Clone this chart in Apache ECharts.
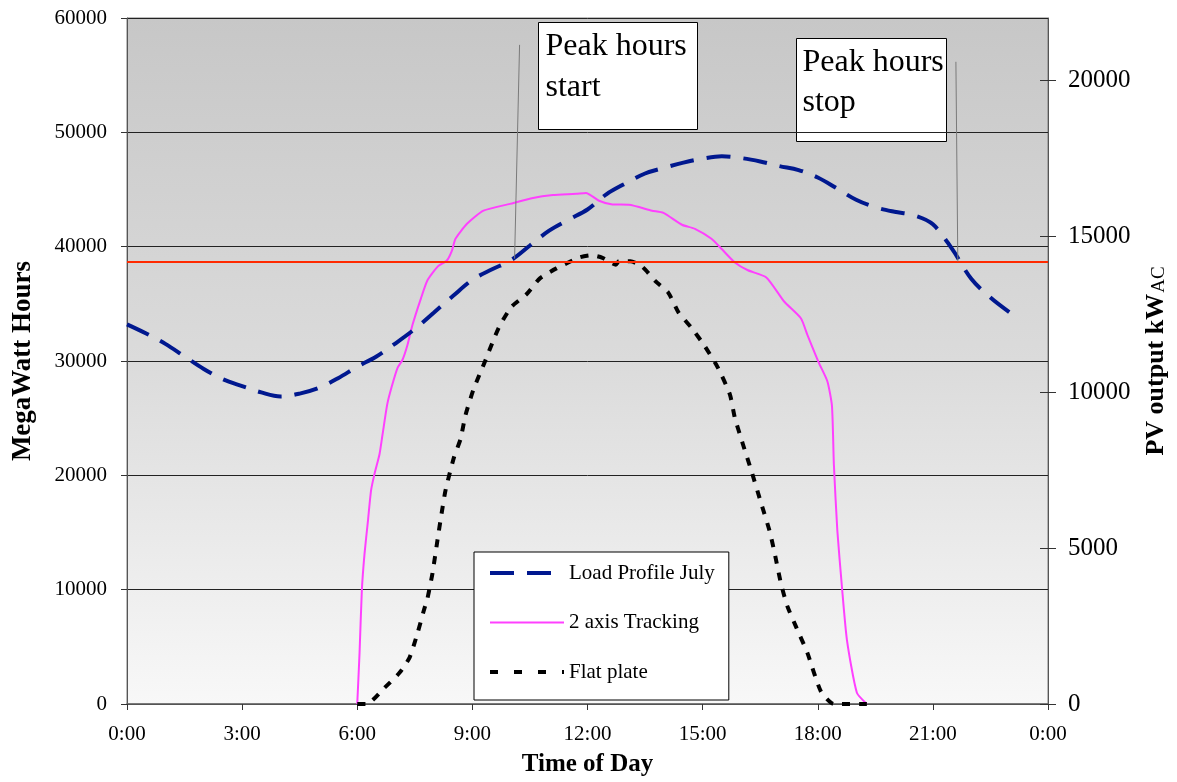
<!DOCTYPE html>
<html>
<head>
<meta charset="utf-8">
<script src="https://cdn.jsdelivr.net/npm/echarts@6/dist/echarts.min.js"></script>
<style>html,body{margin:0;padding:0;background:#fff;overflow:hidden}#c{width:1177px;height:782px}</style>
</head>
<body>
<div id="c"></div>
<script>
// ---- data ----
var seriesNames = ['Load Profile July', '2 axis Tracking', 'Flat plate'];

var loadHours = [0,0.5,1,1.5,2,2.5,3,3.5,4,4.5,5,5.5,6,6.5,7,7.5,8,8.5,9,9.5,10,10.5,11,11.5,12,12.5,13,13.5,14,14.5,15,15.5,16,16.5,17,17.5,18,18.5,19,19.5,20,20.5,21,21.5,22,22.5,23];
var loadMW = [33200,32400,31500,30400,29300,28400,27800,27250,26900,27150,27650,28500,29500,30400,31550,32800,34250,35700,37100,38000,38800,40100,41400,42350,43250,44600,45550,46400,46900,47350,47700,47900,47750,47450,47050,46700,46050,45100,44100,43450,43050,42750,41950,39800,37200,35550,34250];

var trackHours = [6.0,6.06,6.12,6.19,6.28,6.36,6.45,6.58,6.66,6.78,6.89,7.05,7.18,7.31,7.44,7.66,7.83,8.09,8.34,8.47,8.56,8.86,9.29,9.98,10.58,11.1,11.7,11.96,12.3,12.65,13.08,13.68,13.98,14.46,14.8,15.23,15.49,15.84,16.18,16.66,17.13,17.56,17.73,18.03,18.25,18.37,18.42,18.51,18.63,18.76,19.02,19.28];
var trackKW = [0,1640,3650,4820,5890,6850,7380,8010,8650,9600,10140,10780,11040,11520,12160,13010,13590,14020,14230,14550,14920,15400,15820,16040,16230,16320,16360,16390,16140,16020,16010,15820,15750,15370,15240,14920,14600,14160,13910,13680,12900,12370,11840,10940,10350,9560,7690,5570,3760,2060,360,0];

var flatHours = [6.0,6.24,6.71,7.1,7.36,7.57,7.74,7.83,7.96,8.09,8.19,8.3,8.52,8.69,8.82,9.03,9.33,9.68,10.02,10.41,10.76,11.19,11.79,12.11,12.39,12.74,12.82,13.12,13.43,13.77,14.1,14.37,14.72,15.06,15.4,15.71,15.84,16.05,16.27,16.53,16.74,16.87,17.04,17.21,17.43,17.73,18.08,18.42,19.28];
var flatKW = [0,0,520,1000,1480,2270,3020,3390,4190,5250,6050,6850,7910,8490,9260,10090,10990,12050,12740,13140,13650,13970,14320,14390,14310,14090,14200,14200,14020,13560,13200,12560,12050,11470,10780,9930,9180,8330,7480,6420,5570,4880,3870,3130,2490,1640,410,0,0];

var peakThresholdMW = 38700;
var peakStartLeader = [[10.23, 57650], [10.10, 38950]];
var peakStopLeader = [[21.60, 56170], [21.65, 38700]];

var xTicks = [0,3,6,9,12,15,18,21,24];
var rightTicks = [0,5000,10000,15000,20000];

// ---- chart ----
function zip(a, b) { return a.map(function (v, i) { return [v, b[i]]; }); }
var serif = 'Liberation Serif';
var styles = {
  load: {color: '#00188f', width: 4, type: [24, 13]},
  track: {color: '#ff40ff', width: 2, type: 'solid'},
  flat: {color: '#000000', width: 4, type: [8, 9]}
};

var chart = echarts.init(document.getElementById('c'), null, {renderer: 'canvas', width: 1177, height: 782});
chart.setOption({
  animation: false,
  backgroundColor: '#ffffff',
  grid: {
    left: 127, right: 121, top: 18, bottom: 74,
    show: true,
    borderColor: '#7a7a7a', borderWidth: 1,
    backgroundColor: new echarts.graphic.LinearGradient(0, 0, 0, 1, [
      {offset: 0, color: '#c7c7c7'},
      {offset: 0.5, color: '#dbdbdb'},
      {offset: 1, color: '#f8f8f8'}
    ])
  },
  legend: {
    orient: 'vertical',
    left: 474, top: 552,
    data: [
      {name: seriesNames[0], lineStyle: styles.load, itemStyle: {opacity: 0}},
      {name: seriesNames[1], lineStyle: styles.track, itemStyle: {opacity: 0}},
      {name: seriesNames[2], lineStyle: {color: '#000', width: 4, type: [8, 16]}, itemStyle: {opacity: 0}}
    ],
    itemWidth: 74, itemHeight: 22, itemGap: 27.5,
    itemStyle: {opacity: 0},
    backgroundColor: '#ffffff', borderColor: '#000000', borderWidth: 1,
    padding: [10, 14, 17, 14],
    textStyle: {fontFamily: serif, fontSize: 21, color: '#000', lineHeight: 22}
  },
  xAxis: {
    type: 'value', min: 0, max: 24, interval: 3,
    name: 'Time of Day', nameLocation: 'middle', nameGap: 48,
    nameTextStyle: {fontFamily: serif, fontSize: 25, fontWeight: 'bold', color: '#000'},
    axisLine: {show: true, lineStyle: {color: '#666', width: 1.5}},
    axisTick: {show: true, length: 6, lineStyle: {color: '#333'}, customValues: xTicks},
    axisLabel: {margin: 20, fontFamily: serif, fontSize: 21, color: '#000', customValues: xTicks,
      formatter: function (v) { return (v % 24) + ':00'; }},
    splitLine: {show: false}
  },
  yAxis: [{
    type: 'value', min: 0, max: 60000, interval: 10000, position: 'left',
    name: 'MegaWatt Hours', nameLocation: 'middle', nameRotate: 90, nameGap: 90,
    nameTextStyle: {fontFamily: serif, fontSize: 27, fontWeight: 'bold', color: '#000'},
    axisLine: {show: true, lineStyle: {color: '#555', width: 1}},
    axisTick: {show: true, length: 6, lineStyle: {color: '#333'}},
    axisLabel: {margin: 20, fontFamily: serif, fontSize: 21, color: '#000',
      formatter: function (v) { return String(v); }},
    splitLine: {show: true, lineStyle: {color: '#222', width: 1}}
  }, {
    type: 'value', min: 0, max: 22000, interval: 5000, position: 'right',
    name: '{a|PV output kW}{b|AC}', nameLocation: 'middle', nameRotate: 90, nameGap: 95,
    nameTextStyle: {color: '#000', rich: {
      a: {fontFamily: serif, fontSize: 26, fontWeight: 'bold', color: '#000'},
      b: {fontFamily: serif, fontSize: 19, color: '#000', verticalAlign: 'bottom', padding: [6, 0, 0, 1]}
    }},
    axisLine: {show: true, lineStyle: {color: '#555', width: 1}},
    axisTick: {show: true, length: 8, lineStyle: {color: '#333'}, customValues: rightTicks},
    axisLabel: {margin: 20, fontFamily: serif, fontSize: 25, color: '#000', customValues: rightTicks,
      formatter: function (v) { return String(v); }},
    splitLine: {show: false}
  }, {
    type: 'value', min: 0, max: 22000, interval: 5000, position: 'right',
    axisLine: {show: false},
    axisTick: {show: true, inside: true, length: 8, lineStyle: {color: '#333'}, customValues: rightTicks},
    axisLabel: {show: false},
    splitLine: {show: false}
  }],
  series: [{
    name: seriesNames[0], type: 'line', yAxisIndex: 0,
    data: zip(loadHours, loadMW),
    symbol: 'none', smooth: 0.35, z: 4,
    lineStyle: styles.load,
    itemStyle: {color: styles.load.color},
    markLine: {
      silent: true, symbol: 'none', label: {show: false},
      data: [
        {yAxis: peakThresholdMW, lineStyle: {color: '#ff2a00', width: 2, type: 'solid'}},
        [{coord: peakStartLeader[0]}, {coord: peakStartLeader[1]}],
        [{coord: peakStopLeader[0]}, {coord: peakStopLeader[1]}]
      ],
      lineStyle: {color: '#7a7a7a', width: 1, type: 'solid'}
    }
  }, {
    name: seriesNames[1], type: 'line', yAxisIndex: 1,
    data: zip(trackHours, trackKW),
    symbol: 'none', smooth: 0.2, z: 3,
    lineStyle: styles.track,
    itemStyle: {color: styles.track.color}
  }, {
    name: seriesNames[2], type: 'line', yAxisIndex: 1,
    data: zip(flatHours, flatKW),
    symbol: 'none', smooth: 0.2, z: 3,
    lineStyle: styles.flat,
    itemStyle: {color: styles.flat.color}
  }],
  graphic: [
    {type: 'group', left: 538, top: 22, children: [
      {type: 'rect', shape: {x: 0, y: 0, width: 159, height: 107},
        style: {fill: '#fff', stroke: '#000', lineWidth: 1}},
      {type: 'text', x: 7, y: 24, style: {text: 'Peak hours', font: '32px "Liberation Serif"', fill: '#000', verticalAlign: 'middle'}},
      {type: 'text', x: 7, y: 65, style: {text: 'start', font: '32px "Liberation Serif"', fill: '#000', verticalAlign: 'middle'}}
    ]},
    {type: 'group', left: 796, top: 38, children: [
      {type: 'rect', shape: {x: 0, y: 0, width: 150, height: 103},
        style: {fill: '#fff', stroke: '#000', lineWidth: 1}},
      {type: 'text', x: 6, y: 24, style: {text: 'Peak hours', font: '32px "Liberation Serif"', fill: '#000', verticalAlign: 'middle'}},
      {type: 'text', x: 6, y: 64, style: {text: 'stop', font: '32px "Liberation Serif"', fill: '#000', verticalAlign: 'middle'}}
    ]}
  ]
});
</script>
</body>
</html>
